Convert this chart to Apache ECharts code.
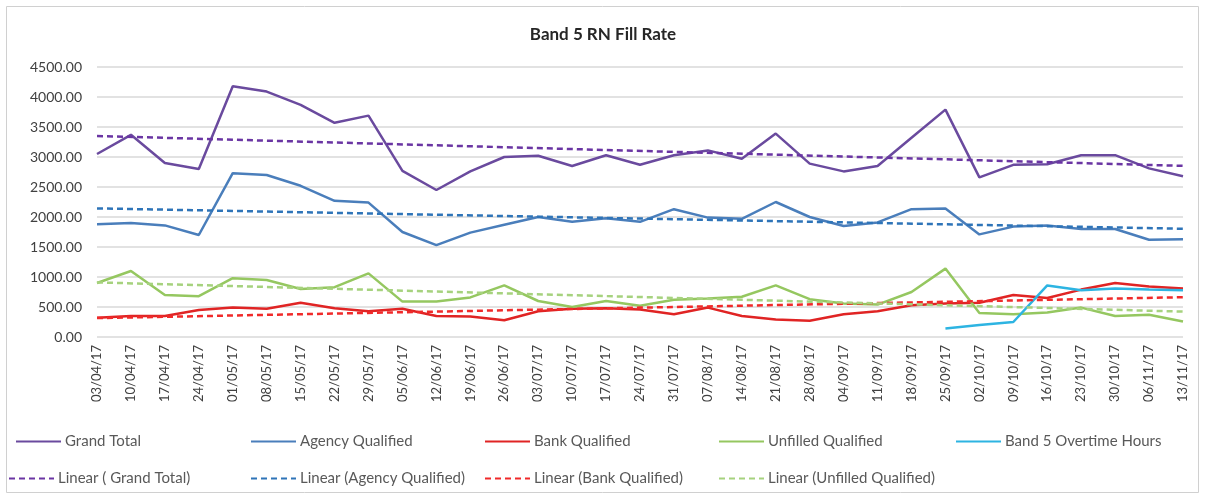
<!DOCTYPE html>
<html>
<head>
<meta charset="utf-8">
<script src="https://cdn.jsdelivr.net/npm/echarts@6/dist/echarts.min.js"></script>
<style>
  html, body { margin: 0; padding: 0; background: #ffffff; }
  #chart { width: 1206px; height: 502px; }
</style>
</head>
<body>
<div id="chart"></div>
<script>
// Week-commencing dates
const weeks = [
  '03/04/17', '10/04/17', '17/04/17', '24/04/17', '01/05/17', '08/05/17', '15/05/17',
  '22/05/17', '29/05/17', '05/06/17', '12/06/17', '19/06/17', '26/06/17', '03/07/17',
  '10/07/17', '17/07/17', '24/07/17', '31/07/17', '07/08/17', '14/08/17', '21/08/17',
  '28/08/17', '04/09/17', '11/09/17', '18/09/17', '25/09/17', '02/10/17', '09/10/17',
  '16/10/17', '23/10/17', '30/10/17', '06/11/17', '13/11/17'
];

const grandTotal = [
  3050, 3370, 2900, 2800, 4180, 4090, 3870, 3570, 3690, 2770, 2450, 2760, 3000, 3020,
  2850, 3030, 2870, 3030, 3110, 2970, 3390, 2890, 2760, 2850, 3320, 3790, 2660, 2870,
  2880, 3030, 3030, 2810, 2680
];

const agencyQualified = [
  1880, 1900, 1860, 1700, 2730, 2700, 2520, 2270, 2240, 1750, 1530, 1740, 1870, 2000,
  1920, 1980, 1920, 2130, 1990, 1970, 2250, 2000, 1850, 1910, 2130, 2140, 1710, 1840,
  1860, 1800, 1800, 1620, 1630
];

const bankQualified = [
  320, 350, 350, 450, 490, 470, 570, 480, 430, 470, 350, 340, 280, 430,
  470, 480, 460, 380, 490, 350, 290, 270, 380, 430, 530, 560, 570, 700,
  650, 790, 900, 840, 810
];

const unfilledQualified = [
  900, 1100, 700, 680, 980, 950, 800, 830, 1060, 590, 590, 660, 860, 600,
  500, 600, 520, 620, 640, 670, 860, 630, 560, 540, 750, 1140, 400, 380,
  410, 490, 350, 370, 260
];

const band5Overtime = [
  null, null, null, null, null, null, null, null, null, null, null, null, null, null,
  null, null, null, null, null, null, null, null, null, null, null, 140, 200, 250,
  860, 780, 810, 790, 780
];

const yTicks = [0, 500, 1000, 1500, 2000, 2500, 3000, 3500, 4000, 4500];

// Least-squares linear trend over the category index, returned as its two end points
function linearTrend(values) {
  const pts = [];
  values.forEach((v, i) => { if (v !== null) pts.push([i, v]); });
  const n = pts.length;
  let sx = 0, sy = 0, sxx = 0, sxy = 0;
  pts.forEach(([x, y]) => { sx += x; sy += y; sxx += x * x; sxy += x * y; });
  const slope = (n * sxy - sx * sy) / (n * sxx - sx * sx);
  const icpt = (sy - slope * sx) / n;
  const x0 = pts[0][0], x1 = pts[n - 1][0];
  return [[x0, icpt + slope * x0], [x1, icpt + slope * x1]];
}

const FONT = 'Lato, "Open Sans", sans-serif';

const colors = {
  grand: '#6a4a9e',
  agency: '#4a7ebb',
  bank: '#e02424',
  unfilled: '#95c760',
  band5: '#2db4e2',
  grandTrend: '#6a35a3',
  agencyTrend: '#2e74b8',
  bankTrend: '#f02a2a',
  unfilledTrend: '#a6d27e'
};

function solid(name, data, color) {
  return {
    name, type: 'line', data, symbol: 'none', showSymbol: false,
    itemStyle: { color },
    lineStyle: { color, width: 2.5 },
    z: 3
  };
}

function trend(name, values, color) {
  return {
    name, type: 'line', data: linearTrend(values), symbol: 'none', showSymbol: false,
    itemStyle: { color },
    lineStyle: { color, width: 2.5, type: [6, 4] },
    z: 4
  };
}

const series = [
  solid('Grand Total', grandTotal, colors.grand),
  solid('Agency Qualified', agencyQualified, colors.agency),
  solid('Bank Qualified', bankQualified, colors.bank),
  solid('Unfilled Qualified', unfilledQualified, colors.unfilled),
  solid('Band 5 Overtime Hours', band5Overtime, colors.band5),
  trend('Linear ( Grand Total)', grandTotal, colors.grandTrend),
  trend('Linear (Agency Qualified)', agencyQualified, colors.agencyTrend),
  trend('Linear (Bank Qualified)', bankQualified, colors.bankTrend),
  trend('Linear (Unfilled Qualified)', unfilledQualified, colors.unfilledTrend)
];

// Two legend rows, fixed column positions
const legendCols = [15, 250, 484, 718, 955];
const legendRow2Cols = [8, 250, 484, 718];
const row1Names = ['Grand Total', 'Agency Qualified', 'Bank Qualified', 'Unfilled Qualified', 'Band 5 Overtime Hours'];
const row2Names = ['Linear ( Grand Total)', 'Linear (Agency Qualified)', 'Linear (Bank Qualified)', 'Linear (Unfilled Qualified)'];

function legendItem(name, left, top) {
  return {
    data: [name], left, top, orient: 'horizontal', padding: 0,
    itemWidth: 45, itemHeight: 14, itemGap: 0,
    selectedMode: false,
    // line sample only, no marker in the middle
    itemStyle: { opacity: 0 },
    textStyle: { fontFamily: FONT, fontSize: 15, color: '#595959', padding: [0, 0, 0, -1] }
  };
}

const legends = [];
row1Names.forEach((n, i) => legends.push(legendItem(n, legendCols[i], 434)));
row2Names.forEach((n, i) => legends.push(legendItem(n, legendRow2Cols[i], 471)));

const chart = echarts.init(document.getElementById('chart'), null, { renderer: 'canvas' });
chart.setOption({
  animation: false,
  backgroundColor: '#ffffff',
  title: {
    text: 'Band 5 RN Fill Rate',
    left: 'center', top: 21,
    textStyle: { fontFamily: FONT, fontSize: 17, fontWeight: 'bold', color: '#262626' }
  },
  graphic: [{
    type: 'rect', shape: { x: 6.5, y: 6.5, width: 1192, height: 486 },
    style: { fill: 'none', stroke: '#d0d0d0', lineWidth: 1 }, silent: true, z: -1
  }],
  legend: legends,
  grid: { left: 97, right: 23, top: 67, bottom: 165, containLabel: false },
  xAxis: {
    type: 'category',
    data: weeks,
    boundaryGap: false,
    axisLine: { show: false },
    axisTick: { show: false },
    axisLabel: {
      rotate: 90, interval: 0, margin: 8,
      fontFamily: FONT, fontSize: 13, color: '#404040'
    },
    splitLine: { show: false }
  },
  yAxis: {
    type: 'value',
    min: yTicks[0], max: yTicks[yTicks.length - 1], interval: yTicks[1] - yTicks[0],
    axisLine: { show: false },
    axisTick: { show: false },
    axisLabel: {
      margin: 15, fontFamily: FONT, fontSize: 14, color: '#404040',
      formatter: v => v.toFixed(2)
    },
    splitLine: { lineStyle: { color: '#d9d9d9', width: 1.5 } }
  },
  series
});
</script>
</body>
</html>
